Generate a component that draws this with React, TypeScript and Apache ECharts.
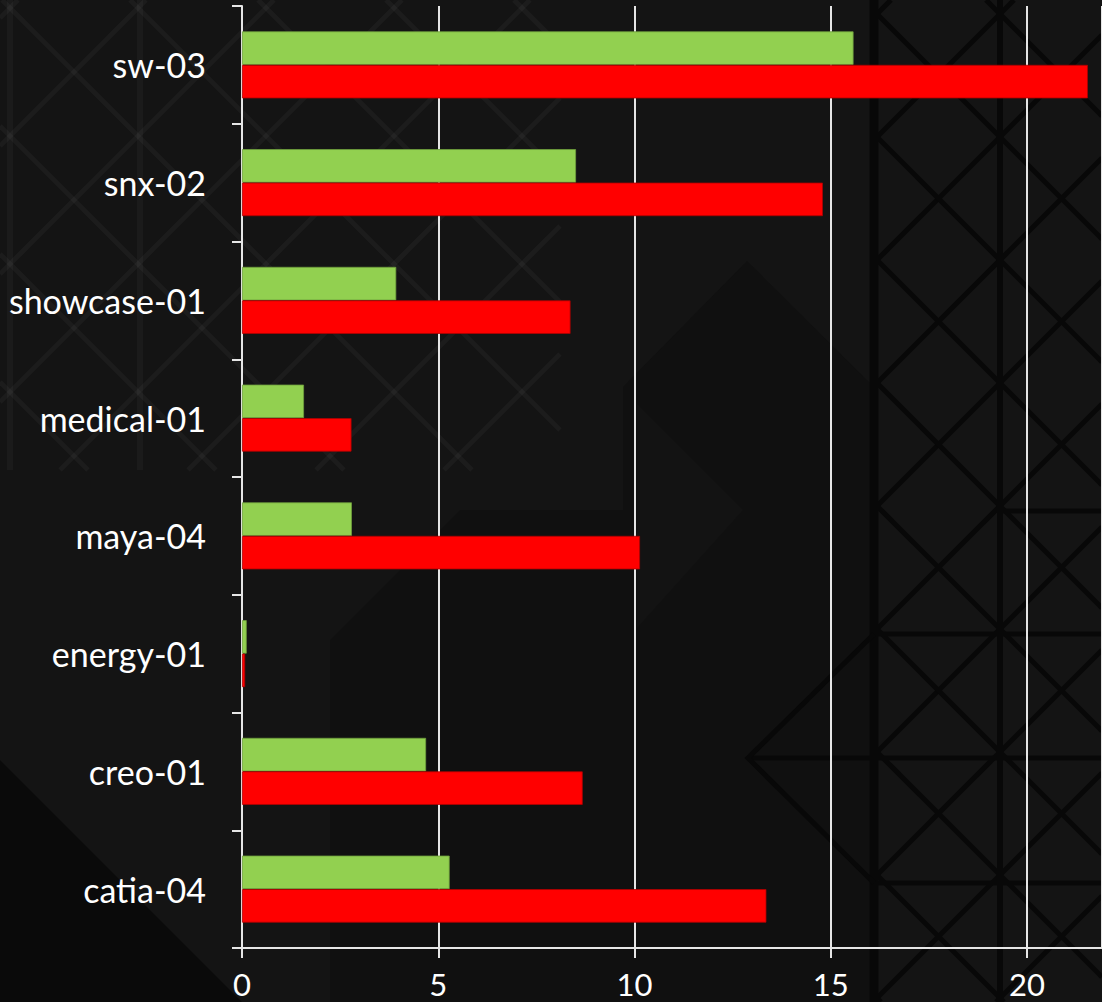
import React, { useEffect, useRef } from "react";
import * as echarts from "echarts";

const categories = ["catia-04", "creo-01", "energy-01", "maya-04", "medical-01", "showcase-01", "snx-02", "sw-03"];
const greenValues = [5.29, 4.69, 0.12, 2.8, 1.58, 3.93, 8.51, 15.58];
const redValues = [13.36, 8.68, 0.08, 10.14, 2.79, 8.37, 14.8, 21.55];
const xTicks = [0, 5, 10, 15, 20];
const xMax = 21.91;

type Seg = [number, number, number, number];

function diagLines(cStart: number, step: number, sign: 1 | -1, x0: number, x1: number, y0: number, y1: number): Seg[] {
  const segs: Seg[] = [];
  for (let k = -40; k <= 40; k++) {
    const c = cStart + step * k;
    let lo: number, hi: number;
    if (sign === 1) {
      lo = Math.max(x0, c - y1);
      hi = Math.min(x1, c - y0);
      if (lo < hi) segs.push([lo, c - lo, hi, c - hi]);
    } else {
      lo = Math.max(x0, c + y0);
      hi = Math.min(x1, c + y1);
      if (lo < hi) segs.push([lo, lo - c, hi, hi - c]);
    }
  }
  return segs;
}

function buildBackground(): any[] {
  const els: any[] = [];
  els.push({ type: "rect", shape: { x: 0, y: 0, width: 1102, height: 1002 }, style: { fill: "#141414" }, z: -10 });
  els.push({
    type: "polygon",
    shape: { points: [[623, 387], [747, 261], [874, 387], [874, 1002], [330, 1002], [330, 640], [460, 510], [623, 510]] },
    style: { fill: "#101010" },
    z: -9,
  });
  els.push({
    type: "polygon",
    shape: { points: [[637, 404], [743, 510], [637, 628]] },
    style: { fill: "#131313" },
    z: -9,
  });
  els.push({
    type: "polygon",
    shape: { points: [[0, 760], [242, 1002], [0, 1002]] },
    style: { fill: "#0a0a0a" },
    z: -9,
  });
  const light = [
    ...diagLines(146, 128, 1, 0, 560, 0, 470),
    ...diagLines(2, 128, -1, 0, 560, 0, 470),
  ];
  light.forEach((s) =>
    els.push({ type: "line", shape: { x1: s[0], y1: s[1], x2: s[2], y2: s[3] }, style: { stroke: "rgba(255,255,255,0.035)", lineWidth: 5 }, z: -8 })
  );
  [10, 140].forEach((x) =>
    els.push({ type: "line", shape: { x1: x, y1: 0, x2: x, y2: 470 }, style: { stroke: "rgba(255,255,255,0.03)", lineWidth: 6 }, z: -8 })
  );
  const dark = [
    ...diagLines(1137, 123, 1, 874, 1102, 0, 1002),
    ...diagLines(863, 123, -1, 874, 1102, 0, 1002),
  ];
  dark.forEach((s) =>
    els.push({ type: "line", shape: { x1: s[0], y1: s[1], x2: s[2], y2: s[3] }, style: { stroke: "#080808", lineWidth: 5 }, z: -8 })
  );
  [874, 1000].forEach((x) =>
    els.push({ type: "line", shape: { x1: x, y1: 0, x2: x, y2: 1002 }, style: { stroke: "#080808", lineWidth: x === 874 ? 9 : 6 }, z: -8 })
  );
  [634, 758, 883].forEach((y) =>
    els.push({ type: "line", shape: { x1: y === 758 ? 748 : 874, y1: y, x2: 1102, y2: y }, style: { stroke: "#080808", lineWidth: 5 }, z: -8 })
  );
  els.push({ type: "line", shape: { x1: 1000, y1: 511, x2: 1102, y2: 511 }, style: { stroke: "#080808", lineWidth: 5 }, z: -8 });
  els.push({ type: "polyline", shape: { points: [[874, 634], [748, 758], [874, 883]] }, style: { stroke: "#080808", lineWidth: 5, fill: null }, z: -8 });
  return els;
}

export default function App() {
  const ref = useRef<HTMLDivElement>(null);
  useEffect(() => {
    if (!ref.current) return;
    const chart = echarts.init(ref.current, null, { renderer: "svg" });
    const font = "Lato, 'Open Sans', sans-serif";
    chart.setOption({
      animation: false,
      backgroundColor: "#141414",
      graphic: buildBackground(),
      grid: { left: 242, top: 6, bottom: 54, right: 0, containLabel: false },
      xAxis: {
        type: "value",
        min: 0,
        max: xMax,
        interval: 5,
        axisLine: { show: true, lineStyle: { color: "#e6e6e6", width: 2 } },
        axisTick: { show: true, length: 10, lineStyle: { color: "#e6e6e6", width: 2 } },
        axisLabel: {
          color: "#ffffff",
          fontSize: 31,
          lineHeight: 34,
          fontFamily: font,
          margin: 19,
          showMaxLabel: false,
          formatter: (v: number) => (xTicks.includes(v) ? String(v) : ""),
        },
        splitLine: { show: true, lineStyle: { color: "#e6e6e6", width: 2 } },
      },
      yAxis: {
        type: "category",
        data: categories,
        axisLine: { show: true, lineStyle: { color: "#e6e6e6", width: 2 } },
        axisTick: { show: true, length: 10, lineStyle: { color: "#e6e6e6", width: 2 } },
        axisLabel: { color: "#ffffff", fontSize: 34, fontFamily: font, margin: 36 },
        splitLine: { show: false },
      },
      series: [
        {
          name: "green",
          type: "bar",
          data: greenValues,
          barWidth: 33.5,
          barGap: "0%",
          itemStyle: { color: "#92D050", borderColor: "#6f9e3c", borderWidth: 0.8 },
        },
        {
          name: "red",
          type: "bar",
          data: redValues,
          barWidth: 33.5,
          barGap: "0%",
          itemStyle: { color: "#FF0000", borderColor: "#b00000", borderWidth: 0.8 },
        },
      ],
    });
    return () => chart.dispose();
  }, []);
  return <div ref={ref} style={{ position: "fixed", left: 0, top: 0, width: 1102, height: 1002 }} />;
}
